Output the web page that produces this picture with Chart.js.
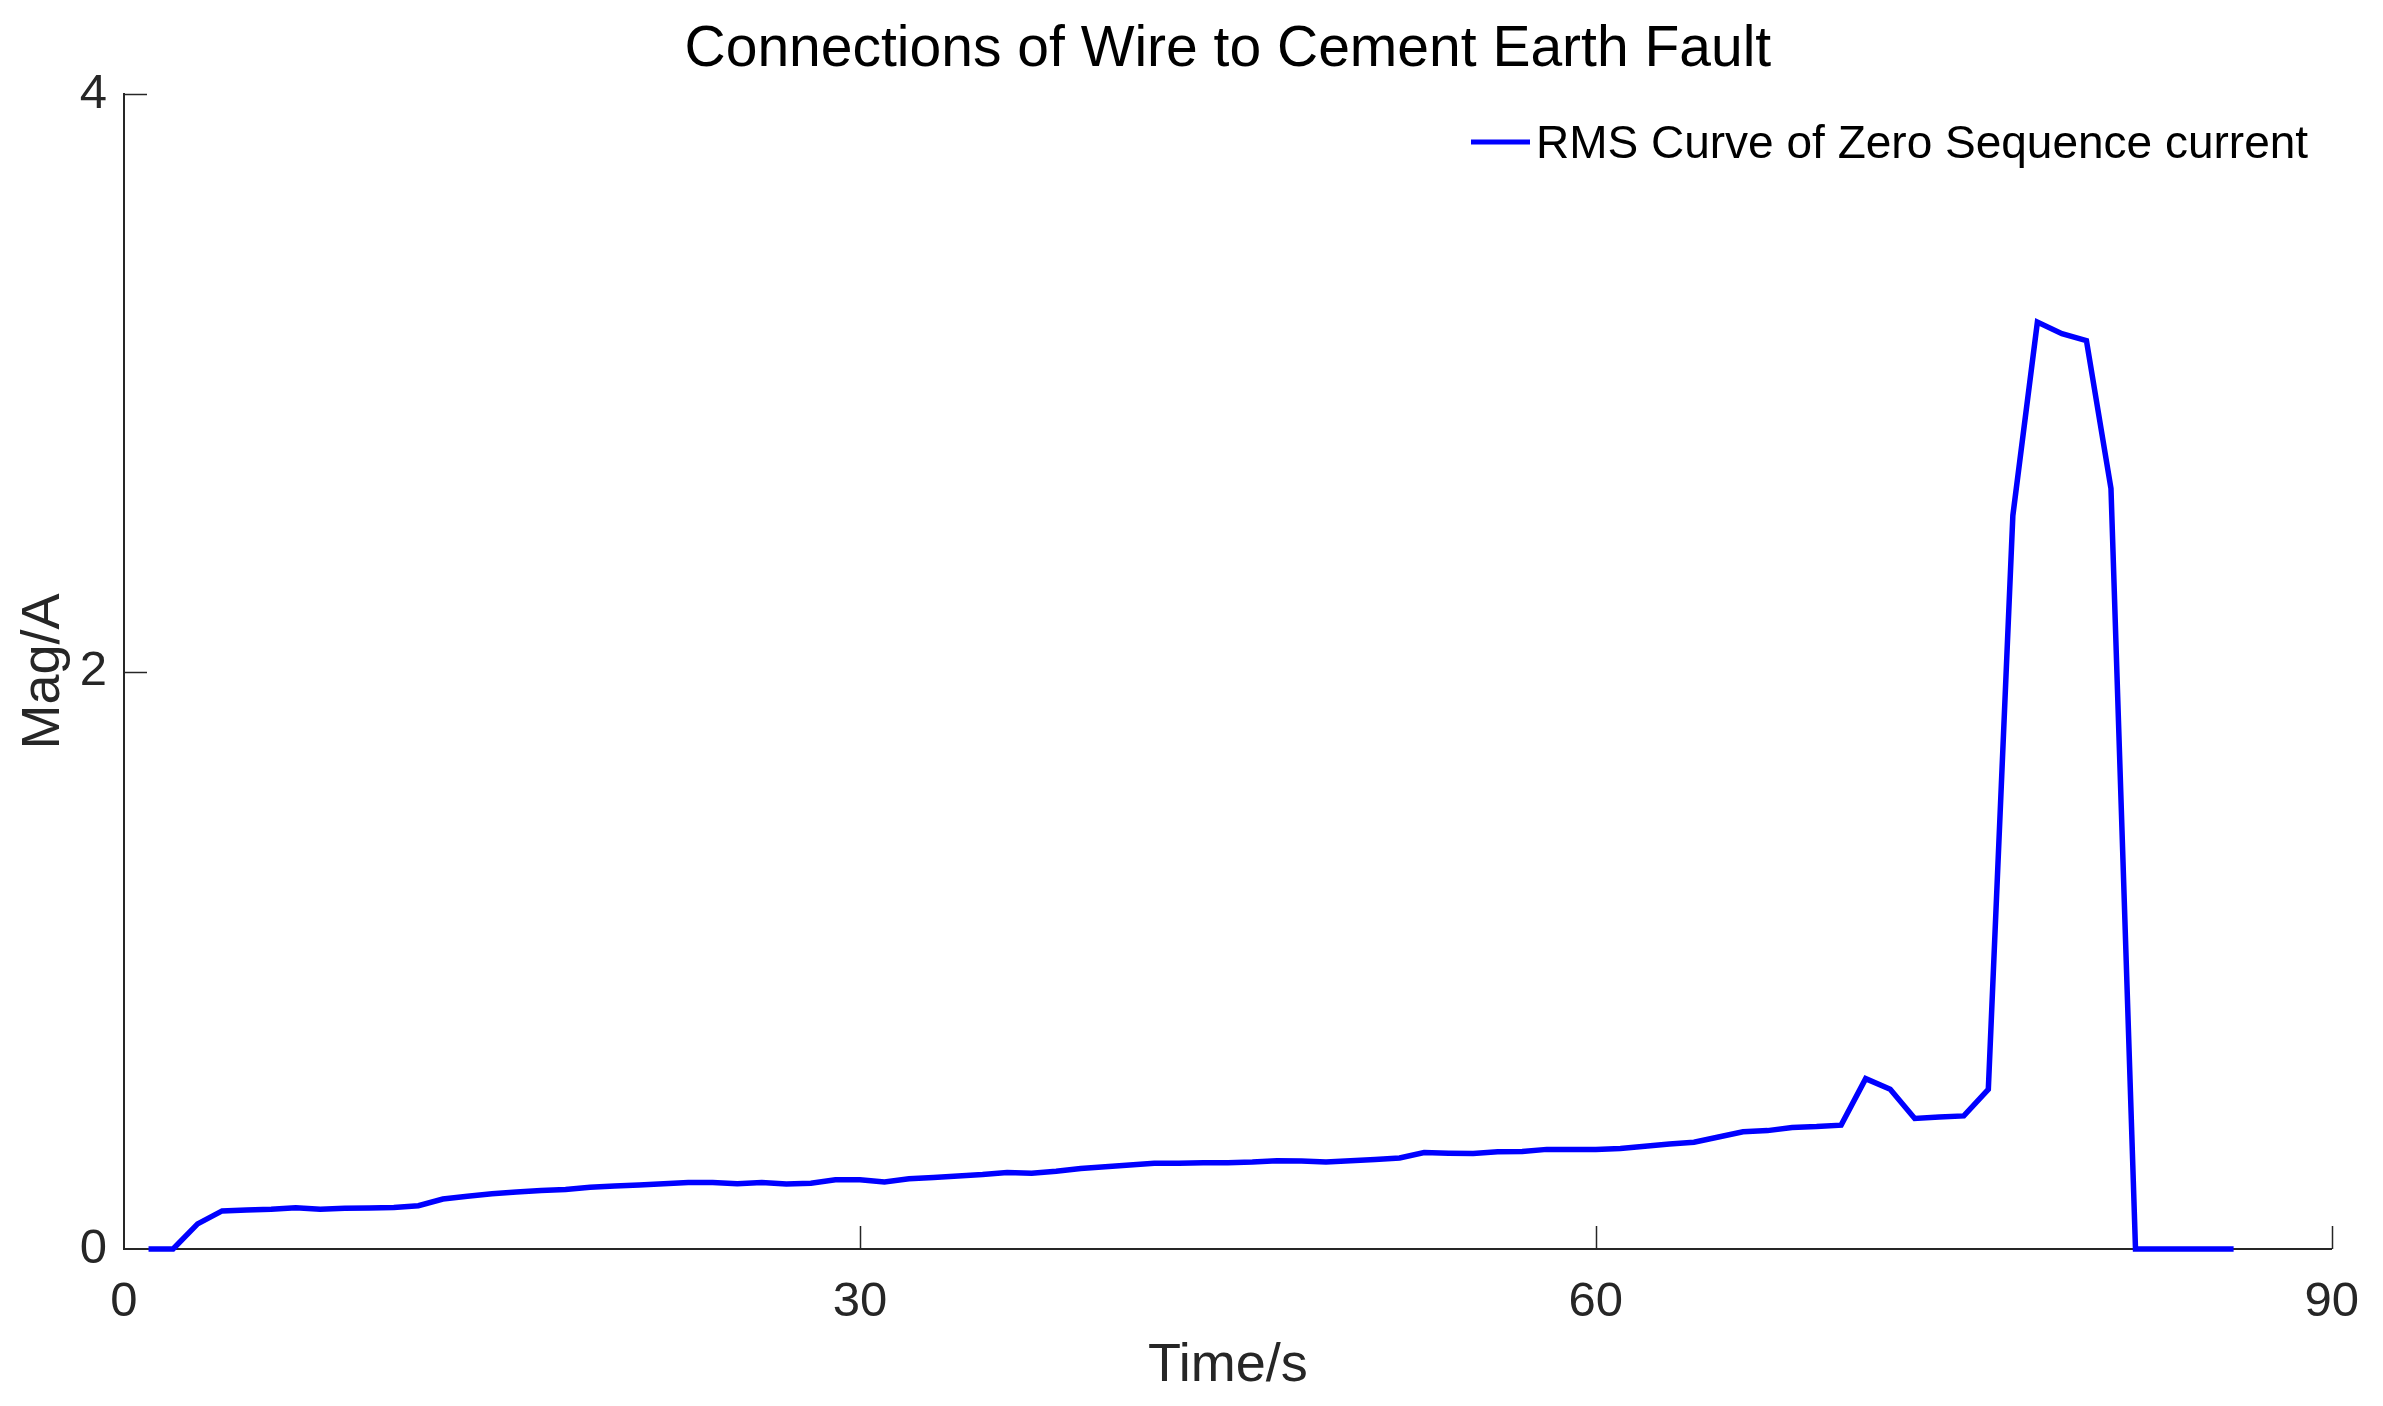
<!DOCTYPE html>
<html>
<head>
<meta charset="utf-8">
<script src="https://cdn.jsdelivr.net/npm/chart.js@4.4.1/dist/chart.umd.min.js"></script>
<style>
  html, body { margin: 0; padding: 0; background: #ffffff; }
  #wrap { width: 2383px; height: 1406px; }
</style>
</head>
<body>
<div id="wrap"><canvas id="c" width="2383" height="1406"></canvas></div>
<script>
// ---- data ----
const chartTitle = "Connections of Wire to Cement Earth Fault";
const xAxisTitle = "Time/s";
const yAxisTitle = "Mag/A";
const seriesLabel = "RMS Curve of Zero Sequence current";

const times = [1, 2, 3, 4, 5, 6, 7, 8, 9, 10,
  11, 12, 13, 14, 15, 16, 17, 18, 19, 20,
  21, 22, 23, 24, 25, 26, 27, 28, 29, 30,
  31, 32, 33, 34, 35, 36, 37, 38, 39, 40,
  41, 42, 43, 44, 45, 46, 47, 48, 49, 50,
  51, 52, 53, 54, 55, 56, 57, 58, 59, 60,
  61, 62, 63, 64, 65, 66, 67, 68, 69, 70,
  71, 72, 73, 74, 75, 76, 77, 78, 79, 80,
  81, 82, 83, 84, 85, 86];

const rmsValues = [0.000, 0.000, 0.087, 0.132, 0.135, 0.138, 0.143, 0.138, 0.141, 0.142,
  0.144, 0.150, 0.173, 0.183, 0.191, 0.197, 0.203, 0.206, 0.214, 0.218,
  0.222, 0.226, 0.230, 0.230, 0.226, 0.230, 0.225, 0.228, 0.240, 0.240,
  0.232, 0.243, 0.248, 0.253, 0.258, 0.265, 0.262, 0.269, 0.279, 0.285,
  0.291, 0.297, 0.297, 0.299, 0.299, 0.301, 0.306, 0.305, 0.301, 0.306,
  0.310, 0.315, 0.334, 0.332, 0.331, 0.337, 0.338, 0.345, 0.345, 0.345,
  0.348, 0.356, 0.364, 0.370, 0.388, 0.406, 0.410, 0.421, 0.424, 0.429,
  0.590, 0.553, 0.452, 0.457, 0.461, 0.553, 2.540, 3.210, 3.170, 3.146,
  2.634, 0.000, 0.000, 0.000, 0.000, 0.000];

const xTicks = [0, 30, 60, 90];
const yTicks = [0, 2, 4];

// ---- styling ----
const FONT = "'Liberation Sans', Arial, Helvetica, sans-serif";
const AXIS_COLOR = '#262626';
const LINE_COLOR = '#0000ff';

const points = times.map((t, i) => ({ x: t, y: rmsValues[i] }));

const decorations = {
  id: 'decorations',
  afterDatasetsDraw(chart) {
    const ctx = chart.ctx;
    const area = chart.chartArea;
    const xs = chart.scales.x, ys = chart.scales.y;
    ctx.save();
    // inward tick marks
    ctx.strokeStyle = AXIS_COLOR;
    ctx.lineWidth = 1.5;
    const tl = 23;
    xTicks.forEach(v => {
      if (v === xs.min) return;
      const px = Math.round(xs.getPixelForValue(v)) + 0.5;
      ctx.beginPath();
      ctx.moveTo(px, area.bottom);
      ctx.lineTo(px, area.bottom - tl);
      ctx.stroke();
    });
    yTicks.forEach(v => {
      if (v === ys.min) return;
      const py = Math.round(ys.getPixelForValue(v)) + 0.5;
      ctx.beginPath();
      ctx.moveTo(area.left, py);
      ctx.lineTo(area.left + tl, py);
      ctx.stroke();
    });
    // legend
    const ds = chart.data.datasets[0];
    ctx.strokeStyle = ds.borderColor;
    ctx.lineWidth = 5;
    ctx.beginPath();
    ctx.moveTo(1471, 142);
    ctx.lineTo(1530, 142);
    ctx.stroke();
    ctx.fillStyle = '#000000';
    ctx.font = '46px ' + FONT;
    ctx.textAlign = 'left';
    ctx.textBaseline = 'middle';
    ctx.fillText(ds.label, 1536, 145);
    // title
    ctx.font = '57px ' + FONT;
    ctx.textAlign = 'center';
    ctx.fillText(chartTitle, (area.left + area.right) / 2, 50);
    // axis titles
    ctx.fillStyle = AXIS_COLOR;
    ctx.font = '54px ' + FONT;
    ctx.fillText(xAxisTitle, (area.left + area.right) / 2, 1366);
    ctx.translate(44, (area.top + area.bottom) / 2);
    ctx.rotate(-Math.PI / 2);
    ctx.fillText(yAxisTitle, 0, 0);
    ctx.restore();
  }
};

new Chart(document.getElementById('c'), {
  type: 'line',
  data: {
    datasets: [{
      label: seriesLabel,
      data: points,
      borderColor: LINE_COLOR,
      backgroundColor: LINE_COLOR,
      borderWidth: 5.5,
      pointRadius: 0,
      tension: 0,
      fill: false,
      clip: false
    }]
  },
  options: {
    responsive: false,
    animation: false,
    devicePixelRatio: 1,
    layout: { padding: { left: 0, right: 46, top: 94, bottom: 0 } },
    plugins: {
      legend: { display: false },
      title: { display: false },
      tooltip: { enabled: false }
    },
    scales: {
      x: {
        type: 'linear',
        min: 0, max: 90,
        afterFit: s => { s.height = 157; },
        afterBuildTicks: s => { s.ticks = xTicks.map(v => ({ value: v })); },
        grid: { display: false, drawTicks: false },
        border: { display: true, color: AXIS_COLOR, width: 2 },
        ticks: { color: AXIS_COLOR, padding: 24, font: { size: 49, family: FONT }, maxRotation: 0 }
      },
      y: {
        type: 'linear',
        min: 0, max: 4,
        afterFit: s => { s.width = 124; },
        afterBuildTicks: s => { s.ticks = yTicks.map(v => ({ value: v })); },
        grid: { display: false, drawTicks: false },
        border: { display: true, color: AXIS_COLOR, width: 2 },
        ticks: { color: AXIS_COLOR, padding: 17, font: { size: 49, family: FONT } }
      }
    }
  },
  plugins: [decorations]
});
</script>
</body>
</html>
